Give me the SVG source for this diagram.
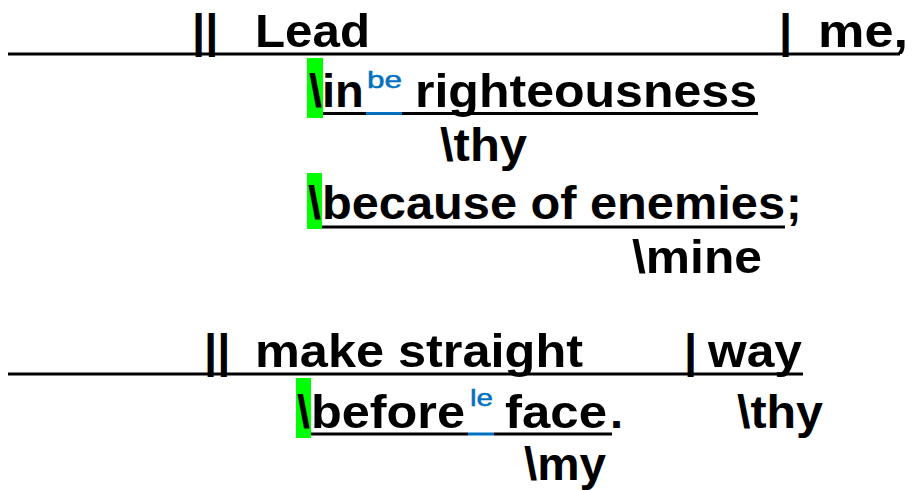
<svg xmlns="http://www.w3.org/2000/svg" width="915" height="490" viewBox="0 0 915 490">
<style>
.t{font-family:"Liberation Sans",Arial,sans-serif;font-weight:bold;font-size:47px;fill:#000}
.s{font-family:"Liberation Sans",Arial,sans-serif;font-size:24px;fill:#0070C0;stroke:#0070C0;stroke-width:0.5}
.ln{stroke:#000;stroke-width:3;fill:none}
.bl{stroke:#0070C0;stroke-width:3;fill:none}
.hl{fill:#00FF00}
</style>
<rect width="915" height="490" fill="#fff"/>
<g id="connectors">
<line class="ln" x1="8" y1="54" x2="900" y2="54"/>
<line class="ln" x1="323" y1="113.5" x2="366" y2="113.5"/>
<line class="bl" x1="366" y1="113.5" x2="402" y2="113.5"/>
<line class="ln" x1="402" y1="113.5" x2="758" y2="113.5"/>
<line class="ln" x1="322" y1="227" x2="785" y2="227"/>
<line class="ln" x1="8" y1="374" x2="803" y2="374"/>
<line class="ln" x1="311" y1="434" x2="468" y2="434"/>
<line class="bl" x1="468" y1="434" x2="494" y2="434"/>
<line class="ln" x1="494" y1="434" x2="612" y2="434"/>
</g>
<g id="clause1">
<text class="t" x="192" y="47">||</text>
<text class="t" x="255" y="47" textLength="115" lengthAdjust="spacingAndGlyphs">Lead</text>
<text class="t" x="779" y="47">|</text>
<text class="t" x="818" y="47" textLength="90" lengthAdjust="spacingAndGlyphs">me,</text>
</g>
<g id="in-righteousness">
<rect class="hl" x="307" y="58" width="16" height="60"/>
<text class="t" x="309" y="107">\in</text>
<text class="s" x="367" y="88" textLength="35" lengthAdjust="spacingAndGlyphs">be</text>
<text class="t" x="415" y="107" textLength="342" lengthAdjust="spacingAndGlyphs">righteousness</text>
</g>
<g id="thy1">
<text class="t" x="440" y="161" textLength="87" lengthAdjust="spacingAndGlyphs">\thy</text>
</g>
<g id="because-of-enemies">
<rect class="hl" x="307" y="173" width="15" height="56"/>
<text class="t" x="308" y="219">\</text>
<text class="t" x="322" y="219" textLength="463" lengthAdjust="spacingAndGlyphs">because of enemies</text>
<text class="t" x="786" y="219">;</text>
</g>
<g id="mine">
<text class="t" x="632" y="273" textLength="130" lengthAdjust="spacingAndGlyphs">\mine</text>
</g>
<g id="clause2">
<text class="t" x="204" y="367">||</text>
<text class="t" x="255" y="367" textLength="328" lengthAdjust="spacingAndGlyphs">make straight</text>
<text class="t" x="684" y="367">|</text>
<text class="t" x="708" y="367" textLength="94" lengthAdjust="spacingAndGlyphs">way</text>
</g>
<g id="before-face">
<rect class="hl" x="296" y="378" width="15" height="60"/>
<text class="t" x="297" y="428">\</text>
<text class="t" x="311" y="428" textLength="154" lengthAdjust="spacingAndGlyphs">before</text>
<text class="s" x="470" y="406" textLength="23" lengthAdjust="spacingAndGlyphs">le</text>
<text class="t" x="505" y="428" textLength="102" lengthAdjust="spacingAndGlyphs">face</text>
<text class="t" x="610" y="428">.</text>
</g>
<g id="thy2">
<text class="t" x="737" y="428" textLength="86" lengthAdjust="spacingAndGlyphs">\thy</text>
</g>
<g id="my">
<text class="t" x="524" y="480" textLength="82" lengthAdjust="spacingAndGlyphs">\my</text>
</g>
</svg>
